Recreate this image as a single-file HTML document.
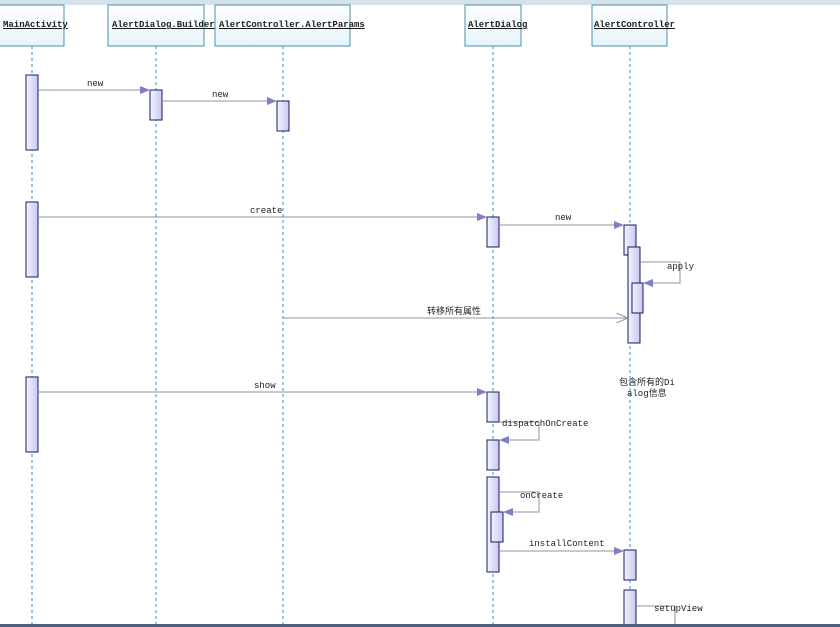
<!DOCTYPE html>
<html><head><style>
body{margin:0;width:840px;height:627px;overflow:hidden;background:#fff;}
svg{display:block}
text{font-family:"Liberation Mono","Noto Sans CJK SC",monospace;font-size:9px;fill:#222}
</style></head><body>
<svg width="840" height="627" xmlns="http://www.w3.org/2000/svg">
<defs>
<linearGradient id="g" x1="0" x2="1"><stop offset="0" stop-color="#f4f4ff"/><stop offset="1" stop-color="#c8c8f0"/></linearGradient>
<linearGradient id="h" x1="0" y1="0" x2="0" y2="1"><stop offset="0" stop-color="#ffffff"/><stop offset="1" stop-color="#e6f4fa"/></linearGradient>
<marker id="a" markerWidth="10" markerHeight="8" refX="10" refY="4" orient="auto" markerUnits="userSpaceOnUse"><path d="M0,0L10,4L0,8z" fill="#8080c0"/></marker>
<marker id="o" markerWidth="12" markerHeight="10" refX="12" refY="5" orient="auto" markerUnits="userSpaceOnUse"><path d="M0,0L12,5L0,10" fill="none" stroke="#9090b0"/></marker>
</defs>
<rect x="0" y="0" width="840" height="5" fill="#d4e2ee"/>
<g fill="url(#h)" stroke="#4a90a8">
<rect x="-1" y="5" width="65" height="41"/>
<rect x="108" y="5" width="96" height="41"/>
<rect x="215" y="5" width="135" height="41"/>
<rect x="465" y="5" width="56" height="41"/>
<rect x="592" y="5" width="75" height="41"/>
</g>
<g text-decoration="underline" font-weight="bold">
<text x="3" y="27">MainActivity</text>
<text x="112" y="27">AlertDialog.Builder</text>
<text x="219" y="27">AlertController.AlertParams</text>
<text x="468" y="27">AlertDialog</text>
<text x="594" y="27">AlertController</text>
</g>
<g stroke="#3a90c0" stroke-dasharray="3,3">
<line x1="32" y1="46" x2="32" y2="627"/><line x1="156" y1="46" x2="156" y2="627"/>
<line x1="283" y1="46" x2="283" y2="627"/><line x1="493" y1="46" x2="493" y2="627"/>
<line x1="630" y1="46" x2="630" y2="627"/>
</g>
<g fill="url(#g)" stroke="#1a1a60">
<rect x="26" y="75" width="12" height="75"/><rect x="26" y="202" width="12" height="75"/><rect x="26" y="377" width="12" height="75"/>
<rect x="150" y="90" width="12" height="30"/><rect x="277" y="101" width="12" height="30"/>
<rect x="487" y="217" width="12" height="30"/><rect x="487" y="392" width="12" height="30"/><rect x="487" y="440" width="12" height="30"/>
<rect x="487" y="477" width="12" height="95"/><rect x="491" y="512" width="12" height="30"/>
<rect x="624" y="225" width="12" height="30"/><rect x="628" y="247" width="12" height="96"/><rect x="632" y="283" width="11" height="30"/>
<rect x="624" y="550" width="12" height="30"/><rect x="624" y="590" width="12" height="40"/>
</g>
<g stroke="#9090a8" fill="none">
<line x1="38" y1="90" x2="150" y2="90" marker-end="url(#a)"/>
<line x1="162" y1="101" x2="277" y2="101" marker-end="url(#a)"/>
<line x1="38" y1="217" x2="487" y2="217" marker-end="url(#a)"/>
<line x1="499" y1="225" x2="624" y2="225" marker-end="url(#a)"/>
<path d="M640,262H680V283H643" marker-end="url(#a)"/>
<line x1="283" y1="318" x2="628" y2="318" marker-end="url(#o)"/>
<line x1="38" y1="392" x2="487" y2="392" marker-end="url(#a)"/>
<path d="M499,422H539V440H499" marker-end="url(#a)"/>
<path d="M499,492H539V512H503" marker-end="url(#a)"/>
<line x1="499" y1="551" x2="624" y2="551" marker-end="url(#a)"/>
<path d="M636,606H675V627"/>
</g>
<text x="87" y="86">new</text><text x="212" y="97">new</text>
<text x="250" y="213">create</text><text x="555" y="220">new</text>
<text x="667" y="269">apply</text><text x="427" y="314">转移所有属性</text>
<text x="254" y="388">show</text><text x="502" y="426">dispatchOnCreate</text>
<text x="520" y="498">onCreate</text><text x="529" y="546">installContent</text>
<text x="654" y="611">setupView</text>
<text x="619" y="385">包含所有的Di</text><text x="627" y="396">alog信息</text>
<rect x="0" y="624" width="840" height="3" fill="#506080"/>
</svg>
</body></html>
